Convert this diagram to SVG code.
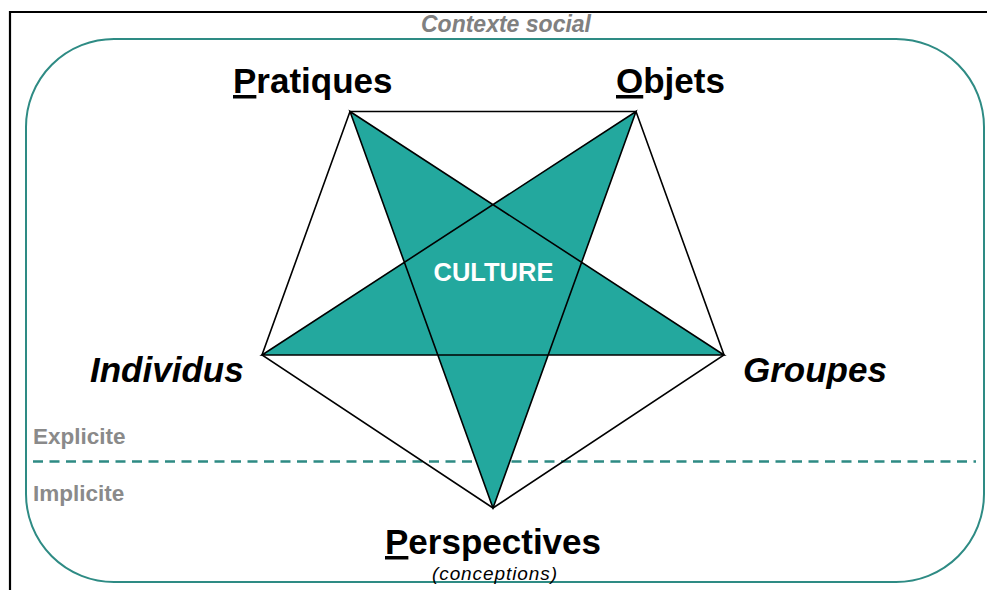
<svg xmlns="http://www.w3.org/2000/svg" width="987" height="590" viewBox="0 0 987 590">
<style>
.lbl{font-family:"Liberation Sans",Arial,sans-serif;font-weight:bold;fill:#000;font-size:35px}
.it{font-style:italic}
.gray{font-family:"Liberation Sans",Arial,sans-serif;font-weight:bold;fill:#8a8a8a;font-size:22.5px}
.edge{stroke:#000;stroke-width:1.6;fill:none;stroke-linejoin:miter}
</style>
<rect width="987" height="590" fill="#fff"/>
<g id="frame">
<path d="M10,590 V12 H987" fill="none" stroke="#000" stroke-width="2.2"/>
</g>
<g id="contexte">
<rect x="26" y="39" width="958" height="543" rx="88" ry="88" fill="none" stroke="#2e8b84" stroke-width="2"/>
<text x="506" y="32" text-anchor="middle" font-family="Liberation Sans,Arial,sans-serif" font-weight="bold" font-style="italic" font-size="23" fill="#808080">Contexte social</text>
</g>
<g id="divider">
<line x1="33" y1="461.5" x2="976" y2="461.5" stroke="#2e8b84" stroke-width="2.5" stroke-dasharray="10,6.5"/>
<text class="gray" x="33" y="444">Explicite</text>
<text class="gray" x="33" y="501">Implicite</text>
</g>
<g id="connectors">
<path id="star" d="M350,111.5 L724,355 L262,355 L636,111.5 L493,508 Z" fill="#23a89e" stroke="#000" stroke-width="1.6" stroke-linejoin="miter"/>
<path id="pentagon" class="edge" d="M350,111.5 L636,111.5 L724,355 L493,508 L262,355 Z"/>
</g>
<g id="culture">
<text x="493.5" y="281" text-anchor="middle" font-family="Liberation Sans,Arial,sans-serif" font-weight="bold" font-size="25.5" fill="#fff">CULTURE</text>
</g>
<g id="pratiques">
<text class="lbl" x="233" y="93"><tspan text-decoration="underline">P</tspan>ratiques</text>
</g>
<g id="objets">
<text class="lbl" x="616" y="93"><tspan text-decoration="underline">O</tspan>bjets</text>
</g>
<g id="individus">
<text class="lbl it" x="90" y="382">Individus</text>
</g>
<g id="groupes">
<text class="lbl it" x="743" y="382">Groupes</text>
</g>
<g id="perspectives">
<text class="lbl" x="385" y="554" font-size="36"><tspan text-decoration="underline">P</tspan>erspectives</text>
<text x="494.5" y="580" text-anchor="middle" font-family="Liberation Sans,Arial,sans-serif" font-style="italic" font-size="19" fill="#000" textLength="125" lengthAdjust="spacing">(conceptions)</text>
</g>
</svg>
